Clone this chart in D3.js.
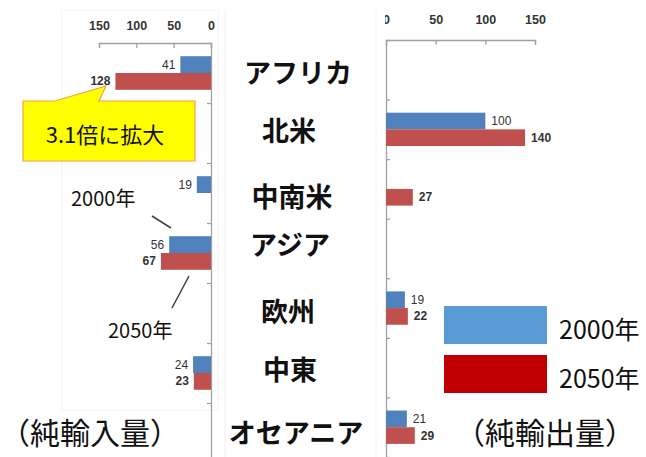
<!DOCTYPE html>
<html><head><meta charset="utf-8">
<script src="https://cdn.jsdelivr.net/npm/d3@7"></script>
<style>
html,body{margin:0;padding:0;background:#fff;}
svg{display:block;}
</style></head>
<body>
<svg id="c" width="646" height="457"></svg>
<script>
const categories = ["アフリカ","北米","中南米","アジア","欧州","中東","オセアニア"];
const series = ["2000年","2050年"];
const import2000 = [41, 0, 19, 56, 0, 24, 0];
const import2050 = [128, 0, 0, 67, 0, 23, 0];
const export2000 = [0, 100, 0, 0, 19, 0, 21];
const export2050 = [0, 140, 27, 0, 22, 0, 29];
const axisTicks = [0, 50, 100, 150];
const sideTitles = ["（純輸入量）", "（純輸出量）"];
const calloutText = "3.1倍に拡大";

const svg = d3.select("#c");
const JP = "'Noto Sans CJK JP','Noto Sans',sans-serif";
const NUM = "'Liberation Sans','Noto Sans',sans-serif";
const barColor = {"2000年":"#4F81BD","2050年":"#C0504D"};
const legColor = {"2000年":"#5B9BD5","2050年":"#C00000"};

// faint panel frames
svg.append("rect").attr("x",62).attr("y",10).attr("width",156).attr("height",400)
  .attr("fill","none").attr("stroke","#f3f3f3");
svg.append("line").attr("x1",225).attr("x2",225).attr("y1",10).attr("y2",457).attr("stroke","#f0f0f0");
svg.append("line").attr("x1",376).attr("x2",376).attr("y1",10).attr("y2",457).attr("stroke","#f0f0f0");

// scales
const xL = d3.scaleLinear().domain([0,150]).range([211,99]);
const xR = d3.scaleLinear().domain([0,150]).range([386,535]);
const yL = d3.scaleBand().domain(categories).range([43,463]);
const yR = d3.scaleBand().domain(categories).range([40,457]);
const sub = d3.scaleBand().domain(series).range([0.22,0.78]);
const bL = d3.scaleLinear().domain([0,7]).range([43,463]);
const bR = d3.scaleLinear().domain([0,7]).range([40,457]);

const rowsL = categories.map((c,i)=>({c, vals:[{s:series[0],v:import2000[i]},{s:series[1],v:import2050[i]}]}));
const rowsR = categories.map((c,i)=>({c, vals:[{s:series[0],v:export2000[i]},{s:series[1],v:export2050[i]}]}));

function styleAxis(g){
  g.selectAll("path,line").attr("stroke","#A0A0A0").attr("stroke-width",1.3);
}

// left top axis
const axL = svg.append("g").attr("transform","translate(0,43)")
  .call(d3.axisTop(xL).tickValues(axisTicks).tickSizeInner(-5).tickSizeOuter(-5).tickPadding(13));
styleAxis(axL);
axL.selectAll("text").attr("font-family",NUM).attr("font-size",12.5).attr("font-weight","bold").attr("fill","#333");

// right top axis (clipped zero label)
svg.append("clipPath").attr("id","clipR").append("rect").attr("x",385).attr("y",-40).attr("width",263).attr("height",457);
const axR = svg.append("g").attr("transform","translate(0,40)").attr("clip-path","url(#clipR)")
  .call(d3.axisTop(xR).tickValues(axisTicks).tickSizeInner(-5).tickSizeOuter(-5).tickPadding(16));
styleAxis(axR);
axR.selectAll("text").attr("font-family",NUM).attr("font-size",12.5).attr("font-weight","bold").attr("fill","#333");

// vertical category axes
const vL = svg.append("g").attr("transform","translate(211,0)")
  .call(d3.axisLeft(bL).tickValues(d3.range(0,8)).tickFormat("").tickSizeInner(4).tickSizeOuter(0));
styleAxis(vL);
const vR = svg.append("g").attr("transform","translate(386,0)")
  .call(d3.axisRight(bR).tickValues(d3.range(0,8)).tickFormat("").tickSizeInner(4).tickSizeOuter(0));
styleAxis(vR);

// bars left
const gL = svg.append("g").selectAll("g").data(rowsL).join("g");
gL.each(function(row){
  const g = d3.select(this);
  const y0 = yL(row.c), h = yL.bandwidth();
  const vals = row.vals.filter(d=>d.v>0);
  g.selectAll("rect").data(vals).join("rect")
    .attr("x",d=>xL(d.v)).attr("width",d=>xL(0)-xL(d.v))
    .attr("y",d=>y0+sub(d.s)*h).attr("height",sub.bandwidth()*h)
    .attr("fill",d=>barColor[d.s]);
  g.selectAll("text").data(vals).join("text")
    .attr("x",d=>xL(d.v)-5).attr("y",d=>y0+(sub(d.s)+sub.bandwidth()/2)*h)
    .attr("text-anchor","end").attr("dominant-baseline","central")
    .attr("font-family",NUM).attr("font-size",12).attr("font-weight",d=>d.s===series[1]?"bold":"normal")
    .attr("fill","#333").text(d=>d.v);
});

// bars right
const gR = svg.append("g").selectAll("g").data(rowsR).join("g");
gR.each(function(row){
  const g = d3.select(this);
  const y0 = yR(row.c), h = yR.bandwidth();
  const vals = row.vals.filter(d=>d.v>0);
  g.selectAll("rect").data(vals).join("rect")
    .attr("x",xR(0)).attr("width",d=>xR(d.v)-xR(0))
    .attr("y",d=>y0+sub(d.s)*h).attr("height",sub.bandwidth()*h)
    .attr("fill",d=>barColor[d.s]);
  g.selectAll("text").data(vals).join("text")
    .attr("x",d=>xR(d.v)+6).attr("y",d=>y0+(sub(d.s)+sub.bandwidth()/2)*h)
    .attr("text-anchor","start").attr("dominant-baseline","central")
    .attr("font-family",NUM).attr("font-size",12).attr("font-weight",d=>d.s===series[1]?"bold":"normal")
    .attr("fill","#333").text(d=>d.v);
});

// category labels in middle
const labelY = [71, 129, 195, 243, 310, 368, 431];
const labelX = [298, 289, 292, 290, 288, 290, 296];
svg.append("g").selectAll("text").data(categories).join("text")
  .attr("x",(d,i)=>labelX[i]).attr("y",(d,i)=>labelY[i])
  .attr("text-anchor","middle").attr("dominant-baseline","central")
  .attr("font-family",JP).attr("font-size",27).attr("font-weight",600).attr("fill","#111")
  .text(d=>d);

// callout
svg.append("path")
  .attr("d","M23,101 L55,101 L106,86 L99,101 L195,101 L195,161 L23,161 Z")
  .attr("fill","#FFFF00").attr("stroke","#F6A04D").attr("stroke-width",1.2);
svg.append("text").attr("x",105).attr("y",133).attr("text-anchor","middle").attr("dominant-baseline","central")
  .attr("font-family",JP).attr("font-size",22).attr("fill","#111").text(calloutText);

// annotations
svg.append("text").attr("x",71).attr("y",197).attr("dominant-baseline","central")
  .attr("font-family",JP).attr("font-size",20).attr("fill","#111").text(series[0]);
svg.append("line").attr("x1",152).attr("y1",216).attr("x2",171).attr("y2",228).attr("stroke","#404040").attr("stroke-width",1.5);
svg.append("text").attr("x",108).attr("y",329).attr("dominant-baseline","central")
  .attr("font-family",JP).attr("font-size",20).attr("fill","#111").text(series[1]);
svg.append("line").attr("x1",189).attr("y1",276).attr("x2",172).attr("y2",308).attr("stroke","#404040").attr("stroke-width",1.5);

// legend
const leg = svg.append("g").selectAll("g").data(series).join("g")
  .attr("transform",(d,i)=>`translate(444,${306+i*49})`);
leg.append("rect").attr("width",103).attr("height",38).attr("fill",d=>legColor[d]);
leg.append("text").attr("x",115).attr("y",22).attr("dominant-baseline","central")
  .attr("font-family",JP).attr("font-size",25).attr("fill","#111").text(d=>d);

// side titles
svg.append("text").attr("x",0).attr("y",431).attr("dominant-baseline","central")
  .attr("font-family",JP).attr("font-size",30).attr("fill","#111").text(sideTitles[0]);
svg.append("text").attr("x",455).attr("y",431).attr("dominant-baseline","central")
  .attr("font-family",JP).attr("font-size",30).attr("fill","#111").text(sideTitles[1]);
</script>
</body></html>
